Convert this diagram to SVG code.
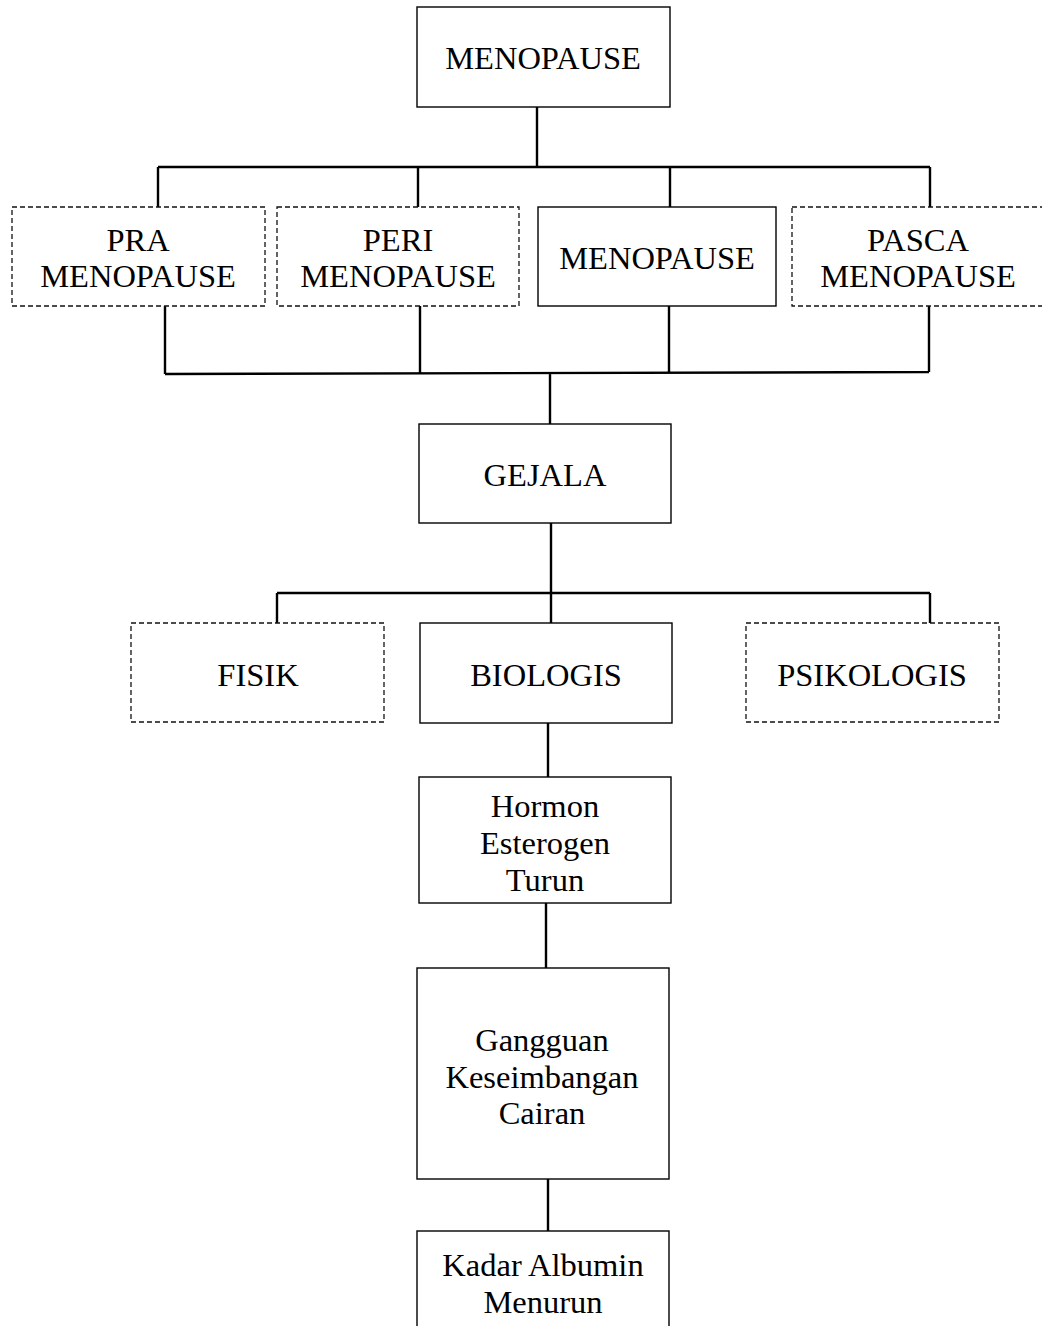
<svg xmlns="http://www.w3.org/2000/svg" width="1042" height="1326" viewBox="0 0 1042 1326">
<style>
.box{fill:#fff;stroke:#000;stroke-width:1.4}
.dash{fill:#fff;stroke:#111;stroke-width:1.3;stroke-dasharray:5 3}
.t{font-family:"Liberation Serif","Times New Roman",serif;font-size:32.5px;fill:#000;text-anchor:middle}
.c{fill:none;stroke:#000;stroke-width:2.4}
</style>
<rect width="1042" height="1326" fill="#fff"/>
<g id="connectors">
<path class="c" d="M537 107V167M158 167H930M158 167V207M418 167V207M670 167V207M930 167V207"/>
<path class="c" d="M165 306V374M420 306V374M669 306V373M929 306V372M165 374L929 372M550 373V424"/>
<path class="c" d="M551 523V593M277 593H930M277 593V623M551 593V623M930 593V623"/>
<path class="c" d="M548 723V777M546 903V968M548 1179V1231"/>
</g>
<g id="n-menopause-top"><rect class="box" x="417" y="7" width="253" height="100"/><text class="t" x="543" y="69">MENOPAUSE</text></g>
<g id="n-pra"><rect class="dash" x="12" y="207" width="253" height="99"/><text class="t" x="138" y="251">PRA</text><text class="t" x="138" y="287">MENOPAUSE</text></g>
<g id="n-peri"><rect class="dash" x="277" y="207" width="242" height="99"/><text class="t" x="398" y="251">PERI</text><text class="t" x="398" y="287">MENOPAUSE</text></g>
<g id="n-menopause"><rect class="box" x="538" y="207" width="238" height="99"/><text class="t" x="657" y="269">MENOPAUSE</text></g>
<g id="n-pasca"><rect class="dash" x="792" y="207" width="252" height="99"/><text class="t" x="918" y="251">PASCA</text><text class="t" x="918" y="287">MENOPAUSE</text></g>
<g id="n-gejala"><rect class="box" x="419" y="424" width="252" height="99"/><text class="t" x="545" y="486">GEJALA</text></g>
<g id="n-fisik"><rect class="dash" x="131" y="623" width="253" height="99"/><text class="t" x="258" y="686">FISIK</text></g>
<g id="n-biologis"><rect class="box" x="420" y="623" width="252" height="100"/><text class="t" x="546" y="686">BIOLOGIS</text></g>
<g id="n-psikologis"><rect class="dash" x="746" y="623" width="253" height="99"/><text class="t" x="872" y="686">PSIKOLOGIS</text></g>
<g id="n-hormon"><rect class="box" x="419" y="777" width="252" height="126"/><text class="t" x="545" y="817">Hormon</text><text class="t" x="545" y="854">Esterogen</text><text class="t" x="545" y="891">Turun</text></g>
<g id="n-gangguan"><rect class="box" x="417" y="968" width="252" height="211"/><text class="t" x="542" y="1051">Gangguan</text><text class="t" x="542" y="1088">Keseimbangan</text><text class="t" x="542" y="1124">Cairan</text></g>
<g id="n-kadar"><rect class="box" x="417" y="1231" width="252" height="110"/><text class="t" x="543" y="1276">Kadar Albumin</text><text class="t" x="543" y="1313">Menurun</text></g>
</svg>
